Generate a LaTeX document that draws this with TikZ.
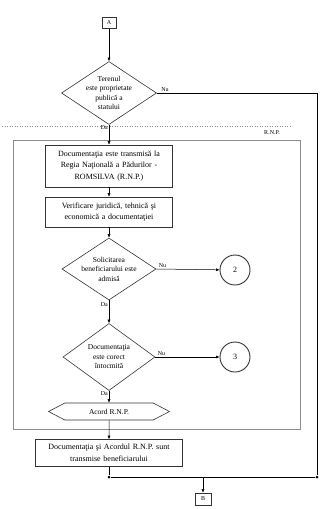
\documentclass[tikz,border=0pt]{standalone}
\usepackage{fontspec}
\setmainfont{Liberation Serif}
\usetikzlibrary{shapes.geometric,shapes.symbols,arrows.meta}
\colorlet{frame}{black!80}
\colorlet{lane}{black!45}
\tikzset{
  proc/.style={rectangle,draw=frame,line width=0.6pt,inner sep=1pt,align=center,
    text width=125pt,font=\fontsize{8}{11.5}\selectfont},
  decision/.style={diamond,draw=frame,line width=0.6pt,inner sep=0pt},
  dtext/.style={align=center,inner sep=0pt,font=\fontsize{7.5}{9.5}\selectfont},
  conn/.style={circle,draw=frame,line width=0.9pt,minimum size=30pt,inner sep=0pt,
    font=\fontsize{8}{9}\selectfont},
  offpage/.style={rectangle,draw=frame,line width=0.6pt,minimum width=14pt,
    minimum height=11pt,inner sep=0pt,font=\fontsize{6}{7}\selectfont},
  prep/.style={signal,signal to=west and east,signal pointer angle=55,draw=frame,
    line width=0.6pt,minimum width=121pt,minimum height=17pt,inner sep=1pt,
    font=\fontsize{7.5}{9}\selectfont},
  flow/.style={-{Latex[length=3.5pt,width=3pt]},line width=0.5pt},
  lbl/.style={font=\fontsize{6}{7}\selectfont,inner sep=1pt},
  junction/.style={circle,fill,inner sep=0pt,minimum size=3pt},
}
\begin{document}
\begin{tikzpicture}[x=1pt,y=-1pt]
  \useasboundingbox (0,0) rectangle (320,509);
  % zona R.N.P.
  \draw[lane,dotted,line width=0.5pt] (2,126) -- (292,126);
  \draw[lane,line width=0.7pt] (13,140) rectangle (300,429);
  \node[lbl] (rnp) at (272,133) {R.N.P.};

  \node[offpage] (A) at (109,23) {A};
  \node[decision,minimum width=95pt,minimum height=63pt] (teren) at (109,93) {};
  \node[dtext] (teren-t) at (teren) {Terenul\\este proprietate\\publică a\\statului};
  \node[proc,minimum height=42pt] (transmis) at (109,166)
    {Documentaţia este transmisă la\\Regia Naţională a Pădurilor -\\ROMSILVA (R.N.P.)};
  \node[proc,minimum height=30pt] (verif) at (109,212)
    {Verificare juridică, tehnică şi\\economică a documentaţiei};
  \node[decision,minimum width=94pt,minimum height=62pt] (solicit) at (109,269) {};
  \node[dtext] (solicit-t) at (solicit) {Solicitarea\\beneficiarului este\\admisă};
  \node[conn] (c2) at (235,270) {2};
  \node[decision,minimum width=92pt,minimum height=67pt] (corect) at (109,357) {};
  \node[dtext] (corect-t) at (corect) {Documentaţia\\este corect\\întocmită};
  \node[conn] (c3) at (235,357) {3};
  \node[prep] (acord) at (109,411.5) {Acord R.N.P.};
  \node[proc,text width=145pt,minimum height=27pt] (final) at (109,453)
    {Documentaţia şi Acordul R.N.P. sunt\\transmise beneficiarului};
  \node[offpage,minimum width=16pt,minimum height=12pt] (B) at (203,499) {B};

  \node[junction] (jn) at (109,477) {};
  \node[junction] (jr) at (317,477) {};
  \coordinate (nu1) at (317,93);
  \coordinate (spre-b) at (203,477);

  \draw[flow] (A) -- (teren);
  \draw[flow] (teren.south) -- node[lbl,pos=0.15,left] {Da} (transmis.north);
  \draw[flow] (transmis) -- (verif);
  \draw[flow] (verif) -- (solicit.north);
  \draw[flow] (solicit.east) -- node[lbl,pos=0.02,anchor=south west] {Nu} (c2);
  \draw[flow] (solicit.south) -- node[lbl,pos=0.2,left] {Da} (corect.north);
  \draw[flow] (corect.east) -- node[lbl,pos=0.02,anchor=south west] {Nu} (c3);
  \draw[flow] (corect.south) -- node[lbl,pos=0.2,left] {Da} (acord.north);
  \draw[flow] (acord) -- (final);
  \draw[line width=0.5pt] (final) -- (jn);
  \draw[line width=0.5pt] (teren.east) -- node[lbl,pos=0.02,anchor=south west] {Nu} (nu1)
    -- (jr) -- (jn);
  \draw[flow] (spre-b) -- (B);
\end{tikzpicture}
\end{document}
